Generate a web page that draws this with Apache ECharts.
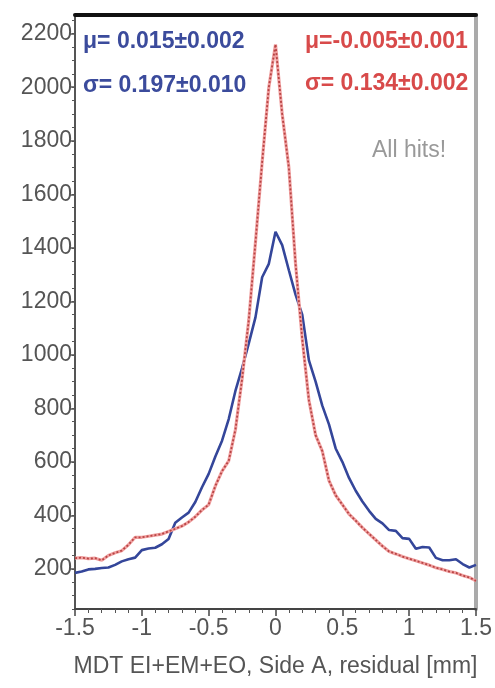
<!DOCTYPE html>
<html>
<head>
<meta charset="utf-8">
<script src="https://cdn.jsdelivr.net/npm/echarts@6/dist/echarts.min.js"></script>
<style>
  html, body { margin: 0; padding: 0; background: #fff; }
  #chart { width: 495px; height: 688px; }
</style>
</head>
<body>
<div id="chart"></div>
<script>
// Residual histograms, 0.05 mm bins from -1.5 to 1.5 mm
const binStart = -1.5;
const binWidth = 0.05;

// Broader distribution (blue)
const blueCounts = [
  185, 190, 198, 200, 203, 205, 215, 228, 236, 242,
  270, 276, 279, 292, 312, 372, 392, 410, 450, 505,
  555, 620, 679, 760, 865, 950, 1043, 1140, 1290, 1340,
  1460, 1410, 1316, 1225, 1150, 979, 900, 810, 740, 650,
  600, 540, 492, 452, 417, 387, 370, 345, 342, 315,
  312, 275, 282, 280, 241, 232, 232, 236, 218, 205,
  215
];

// Narrow distribution (red)
const redCounts = [
  240, 242, 238, 240, 232, 250, 260, 268, 290, 318,
  318, 322, 326, 330, 340, 350, 360, 375, 395, 420,
  440, 510, 565, 604, 720, 910, 1130, 1420, 1720, 2000,
  2160, 1900, 1700, 1340, 1060, 830, 700, 640, 530, 475,
  440, 405, 380, 354, 331, 308, 285, 265, 256, 246,
  238, 230, 222, 214, 204, 198, 190, 185, 175, 168,
  155
];

const yMajorTicks = [200, 400, 600, 800, 1000, 1200, 1400, 1600, 1800, 2000, 2200];
const yMinorTicks = [];
for (let v = 50; v <= 2250; v += 50) yMinorTicks.push(v);

const blueFit = ['\u03bc= 0.015\u00b10.002', '\u03c3= 0.197\u00b10.010'];
const redFit = ['\u03bc=-0.005\u00b10.001', '\u03c3= 0.134\u00b10.002'];
const sampleLabel = 'All hits!';
const xTitle = 'MDT EI+EM+EO, Side A, residual [mm]';

function toPairs(counts) {
  return counts.map((c, i) => [binStart + i * binWidth, c]);
}

const FONT = 'Liberation Sans, Arial, sans-serif';
const chart = echarts.init(document.getElementById('chart'), null, { renderer: 'canvas' });

chart.setOption({
  animation: false,
  backgroundColor: '#ffffff',
  grid: { left: 75, right: 17, top: 15, bottom: 79 },
  xAxis: [
    {
      type: 'value', position: 'bottom', min: -1.5, max: 1.5, interval: 0.5,
      axisLine: { show: true, onZero: false, lineStyle: { color: '#444', width: 2 } },
      axisTick: { show: true, inside: false, length: 7, lineStyle: { color: '#444', width: 1.5 } },
      minorTick: { show: true, splitNumber: 5, length: 4, lineStyle: { color: '#555', width: 1 } },
      splitLine: { show: false },
      axisLabel: { color: '#555', fontSize: 23, fontFamily: FONT, margin: 8 },
      name: xTitle, nameLocation: 'middle', nameGap: 46,
      nameTextStyle: { color: '#555', fontSize: 23, fontFamily: FONT }
    },
    {
      type: 'value', position: 'top', min: -1.5, max: 1.5,
      axisLine: { show: true, onZero: false, lineStyle: { color: '#111', width: 4 } },
      axisTick: { show: false }, axisLabel: { show: false }, splitLine: { show: false }
    }
  ],
  yAxis: [
    {
      type: 'value', position: 'left', min: 50, max: 2270,
      axisLine: { show: true, onZero: false, lineStyle: { color: '#555', width: 2 } },
      axisTick: { show: true, inside: false, length: 6, customValues: yMajorTicks,
                  lineStyle: { color: '#555', width: 1.5 } },
      axisLabel: { show: true, customValues: yMajorTicks, color: '#555', fontSize: 23,
                   fontFamily: FONT, margin: 3, formatter: v => String(v) },
      splitLine: { show: false }
    },
    {
      type: 'value', position: 'left', min: 50, max: 2270,
      axisLine: { show: false, onZero: false },
      axisTick: { show: true, inside: false, length: 3, customValues: yMinorTicks,
                  lineStyle: { color: '#555', width: 1 } },
      axisLabel: { show: false }, splitLine: { show: false }
    },
    {
      type: 'value', position: 'right', min: 50, max: 2270,
      axisLine: { show: true, onZero: false, lineStyle: { color: '#aaa', width: 4 } },
      axisTick: { show: false }, axisLabel: { show: false }, splitLine: { show: false }
    }
  ],
  series: [
    {
      type: 'line', xAxisIndex: 0, yAxisIndex: 0, data: toPairs(blueCounts),
      showSymbol: false, smooth: false,
      lineStyle: { color: '#34469a', width: 2.6 }, z: 2
    },
    {
      type: 'line', xAxisIndex: 0, yAxisIndex: 0, data: toPairs(redCounts),
      showSymbol: false, smooth: false,
      lineStyle: { color: '#f0a0a0', width: 3.2 }, z: 3
    },
    {
      type: 'line', xAxisIndex: 0, yAxisIndex: 0, data: toPairs(redCounts),
      showSymbol: false, smooth: false,
      lineStyle: { color: '#b84444', width: 1.8, type: [2, 2] }, z: 4
    }
  ],
  graphic: [
    { type: 'text', left: 83, top: 30, style: { text: blueFit[0], fill: '#3b4b9c', font: 'bold 23px ' + FONT } },
    { type: 'text', left: 83, top: 74, style: { text: blueFit[1], fill: '#3b4b9c', font: 'bold 23px ' + FONT } },
    { type: 'text', left: 305, top: 30, style: { text: redFit[0], fill: '#d84a4a', font: 'bold 23px ' + FONT } },
    { type: 'text', left: 305, top: 72, style: { text: redFit[1], fill: '#d84a4a', font: 'bold 23px ' + FONT } },
    { type: 'text', left: 372, top: 139, style: { text: sampleLabel, fill: '#999', font: '23px ' + FONT } }
  ]
});
</script>
</body>
</html>
